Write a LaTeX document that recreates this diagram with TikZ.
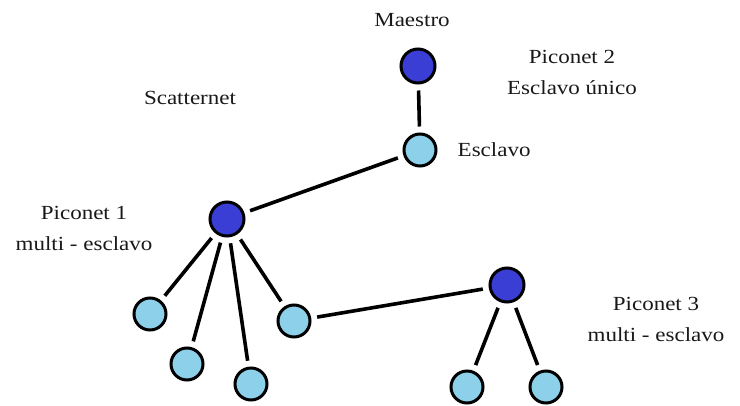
\documentclass[tikz,border=0pt]{standalone}
\usepackage{fontspec}
\setmainfont{Liberation Serif}[FakeStretch=1.15]
\usetikzlibrary{positioning}
\definecolor{mastblue}{RGB}{58,62,212}
\definecolor{slvcyan}{RGB}{140,208,234}

\begin{document}
\begin{tikzpicture}[x=1pt, y=-1pt, every node/.style={font=\fontsize{20}{31}\selectfont, text=black!90}]
\tikzset{mst/.style={draw, circle, line width=3pt, minimum size=34pt, inner sep=0pt, fill=mastblue}}
\tikzset{slv/.style={draw, circle, line width=3pt, minimum size=32pt, inner sep=0pt, fill=slvcyan}}
\tikzset{lnk/.style={line width=3.6pt, shorten >=6pt, shorten <=6pt}}
\tikzset{txt/.style={align=center, inner sep=0pt}}
\useasboundingbox (0,0) rectangle (740,405);
% piconet 2
\node[mst] (m2) at (418,66) {};
\node[slv] (s2) at (420,150) {};
\node[txt] (lmaestro) at (412,20) {Maestro};
\node[txt, right=20pt of s2] (lesclavo) {Esclavo};
\node[txt] (lpico2) at (572,72) {Piconet 2\\Esclavo único};
\node[txt] (lscatter) at (190,98) {Scatternet};
% piconet 1
\node[mst] (m1) at (227,219) {};
\node[slv] (a1) at (150,314) {};
\node[slv] (a2) at (187,364) {};
\node[slv] (a3) at (251,384) {};
\node[slv] (a4) at (294,321) {};
\node[txt] (lpico1) at (84,228) {Piconet 1\\multi - esclavo};
% piconet 3
\node[mst] (m3) at (507,285) {};
\node[slv] (b1) at (467,387) {};
\node[slv] (b2) at (546,387) {};
\node[txt] (lpico3) at (656,319) {Piconet 3\\multi - esclavo};
% links
\draw[lnk] (m2)--(s2);
\draw[lnk] (m1)--(s2);
\foreach \n in {a1,a2,a3,a4} \draw[lnk] (m1)--(\n);
\draw[lnk] (a4)--(m3);
\draw[lnk] (m3)--(b1);
\draw[lnk] (m3)--(b2);
\end{tikzpicture}
\end{document}
